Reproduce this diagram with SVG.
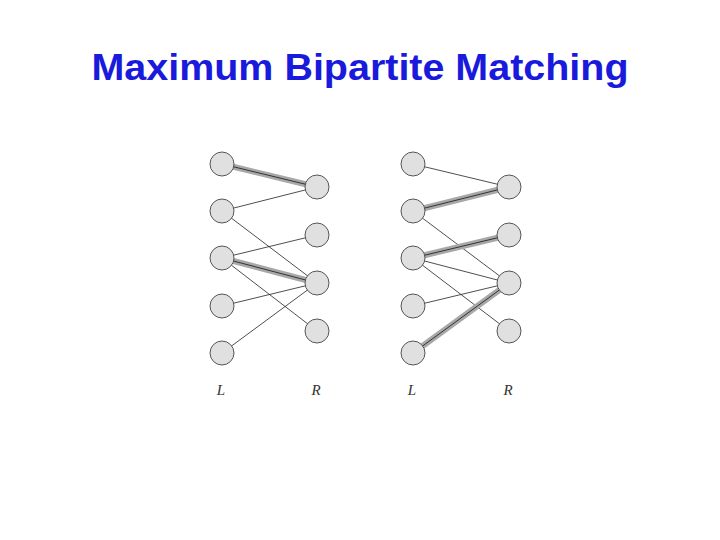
<svg xmlns="http://www.w3.org/2000/svg" width="720" height="540" viewBox="0 0 720 540">
<style>
.n{fill:#e0e0e0;stroke:#555;stroke-width:1}
.e{stroke:#222;stroke-width:0.8}
.m{stroke:#a8a8a8;stroke-width:6;stroke-linecap:round}
.mc{stroke:#333;stroke-width:1}
.lb{font-family:"Liberation Serif",serif;font-style:italic;font-size:15px;fill:#333}
</style>
<rect width="720" height="540" fill="#fff"/>
<text x="360" y="80" text-anchor="middle" font-family="Liberation Sans,sans-serif" font-weight="bold" font-size="36" fill="#1a1adc" textLength="537" lengthAdjust="spacingAndGlyphs">Maximum Bipartite Matching</text>
<g id="connectors">
<g transform="translate(0,0)">
<line class="m" x1="222" y1="164" x2="317" y2="187"/><line class="mc" x1="222" y1="164" x2="317" y2="187"/>
<line class="m" x1="222" y1="258" x2="317" y2="283"/><line class="mc" x1="222" y1="258" x2="317" y2="283"/>
<line class="e" x1="222" y1="211" x2="317" y2="187"/>
<line class="e" x1="222" y1="211" x2="317" y2="283"/>
<line class="e" x1="222" y1="258" x2="317" y2="235"/>
<line class="e" x1="222" y1="258" x2="317" y2="331"/>
<line class="e" x1="222" y1="306" x2="317" y2="283"/>
<line class="e" x1="222" y1="353" x2="317" y2="283"/>
</g>
<g>
<line class="e" x1="413" y1="164" x2="509" y2="187"/>
<line class="m" x1="413" y1="211" x2="509" y2="187"/><line class="mc" x1="413" y1="211" x2="509" y2="187"/>
<line class="e" x1="413" y1="211" x2="509" y2="283"/>
<line class="m" x1="413" y1="258" x2="509" y2="235"/><line class="mc" x1="413" y1="258" x2="509" y2="235"/>
<line class="e" x1="413" y1="258" x2="509" y2="283"/>
<line class="e" x1="413" y1="258" x2="509" y2="331"/>
<line class="e" x1="413" y1="306" x2="509" y2="283"/>
<line class="m" x1="413" y1="353" x2="509" y2="283"/><line class="mc" x1="413" y1="353" x2="509" y2="283"/>
</g>
</g>
<g id="L1a"><circle class="n" cx="222" cy="164" r="12"/></g>
<g id="L2a"><circle class="n" cx="222" cy="211" r="12"/></g>
<g id="L3a"><circle class="n" cx="222" cy="258" r="12"/></g>
<g id="L4a"><circle class="n" cx="222" cy="306" r="12"/></g>
<g id="L5a"><circle class="n" cx="222" cy="353" r="12"/></g>
<g id="R1a"><circle class="n" cx="317" cy="187" r="12"/></g>
<g id="R2a"><circle class="n" cx="317" cy="235" r="12"/></g>
<g id="R3a"><circle class="n" cx="317" cy="283" r="12"/></g>
<g id="R4a"><circle class="n" cx="317" cy="331" r="12"/></g>
<g id="L1b"><circle class="n" cx="413" cy="164" r="12"/></g>
<g id="L2b"><circle class="n" cx="413" cy="211" r="12"/></g>
<g id="L3b"><circle class="n" cx="413" cy="258" r="12"/></g>
<g id="L4b"><circle class="n" cx="413" cy="306" r="12"/></g>
<g id="L5b"><circle class="n" cx="413" cy="353" r="12"/></g>
<g id="R1b"><circle class="n" cx="509" cy="187" r="12"/></g>
<g id="R2b"><circle class="n" cx="509" cy="235" r="12"/></g>
<g id="R3b"><circle class="n" cx="509" cy="283" r="12"/></g>
<g id="R4b"><circle class="n" cx="509" cy="331" r="12"/></g>
<text class="lb" x="221" y="395" text-anchor="middle">L</text>
<text class="lb" x="316" y="395" text-anchor="middle">R</text>
<text class="lb" x="412" y="395" text-anchor="middle">L</text>
<text class="lb" x="508" y="395" text-anchor="middle">R</text>
</svg>
